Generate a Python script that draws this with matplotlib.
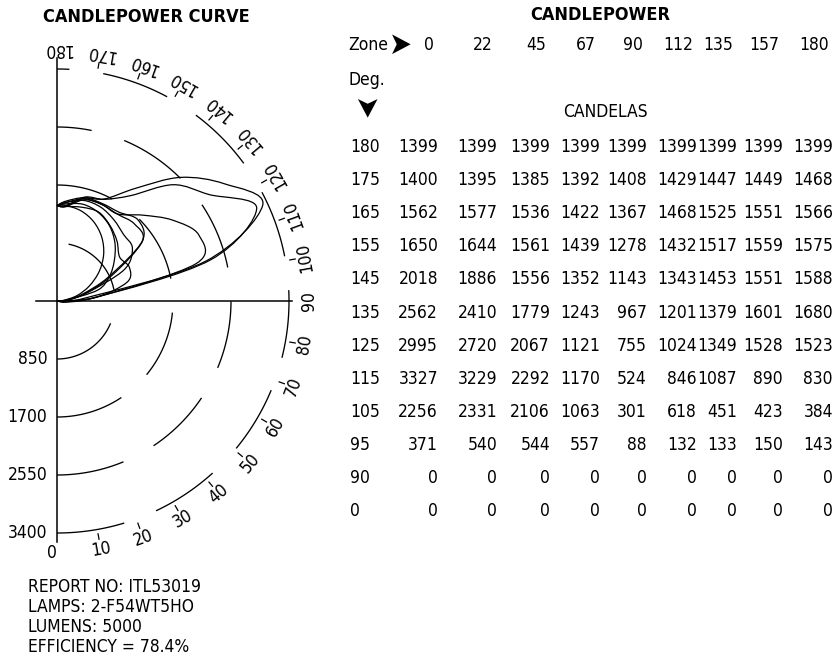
import numpy as np
import matplotlib
matplotlib.use("Agg")
import matplotlib.pyplot as plt
from matplotlib.path import Path
from matplotlib.patches import PathPatch

plt.rcParams['font.family'] = ['DejaVu Sans']
plt.rcParams['font.stretch'] = 'condensed'

# vertical angles (rows of the table) and horizontal planes (columns)
angles = [180, 175, 165, 155, 145, 135, 125, 115, 105, 95, 90, 0]
planes = [0, 22, 45, 67, 90, 112, 135, 157, 180]

# candelas for each plane, one value per vertical angle
cd_0 = [1399, 1400, 1562, 1650, 2018, 2562, 2995, 3327, 2256, 371, 0, 0]
cd_22 = [1399, 1395, 1577, 1644, 1886, 2410, 2720, 3229, 2331, 540, 0, 0]
cd_45 = [1399, 1385, 1536, 1561, 1556, 1779, 2067, 2292, 2106, 544, 0, 0]
cd_67 = [1399, 1392, 1422, 1439, 1352, 1243, 1121, 1170, 1063, 557, 0, 0]
cd_90 = [1399, 1408, 1367, 1278, 1143, 967, 755, 524, 301, 88, 0, 0]
cd_112 = [1399, 1429, 1468, 1432, 1343, 1201, 1024, 846, 618, 132, 0, 0]
cd_135 = [1399, 1447, 1525, 1517, 1453, 1379, 1349, 1087, 451, 133, 0, 0]
cd_157 = [1399, 1449, 1551, 1559, 1551, 1601, 1528, 890, 423, 150, 0, 0]
cd_180 = [1399, 1468, 1566, 1575, 1588, 1680, 1523, 830, 384, 143, 0, 0]
plane_values = [cd_0, cd_22, cd_45, cd_67, cd_90, cd_112, cd_135, cd_157, cd_180]

ring_values = [850, 1700, 2550, 3400]
ring_labels = ['850', '1700', '2550', '3400']
report_lines = ['REPORT NO: ITL53019', 'LAMPS: 2-F54WT5HO',
                'LUMENS: 5000', 'EFFICIENCY = 78.4%']

W, H = 832, 660
fig = plt.figure(figsize=(W / 100, H / 100), dpi=100)
FS = 12.5


def fpos(x, y):
    # pixel position (from top-left) -> figure fraction
    return x / W, 1 - y / H


# ---- polar candlepower curve, data units are candelas ----
S = 232 / 3400.0          # pixels per candela
ox, oy = 57, 301          # origin in pixels
left, right, top, bottom = 0, 330, 30, 585
ax = fig.add_axes([left / W, (H - bottom) / H, (right - left) / W, (bottom - top) / H])
ax.set_xlim((left - ox) / S, (right - ox) / S)
ax.set_ylim(-(bottom - oy) / S, (oy - top) / S)
ax.axis('off')


def xy(r, theta_deg):
    t = np.radians(theta_deg)
    return r * np.sin(t), -r * np.cos(t)


# dashed rings: 1000 cd dash, 500 cd gap, measured along the arc from 0 deg
for r in ring_values:
    total = np.pi * r
    s = 0.0
    while s < total:
        e = min(s + 1000, total)
        th = np.degrees(np.linspace(s / r, e / r, 60))
        x, y = xy(r, th)
        ax.plot(x, y, color='black', lw=0.95, solid_capstyle='butt')
        s += 1500

# axis lines
ax.plot([0, 0], [-3530, 3565], color='black', lw=1.1)
ax.plot([-310, 3450], [0, 0], color='black', lw=1.1)

# degree ticks and labels
for a in range(0, 181, 10):
    if 0 < a < 180 and a != 90:
        x, y = xy(np.array([3465, 3545]), a)
        ax.plot(x, y, color='black', lw=0.9)
    lx, ly = xy(3690, a)
    if a == 0:
        lx -= 70
    ax.text(lx, ly, str(a), rotation=a, ha='center', va='center',
            rotation_mode='anchor', fontsize=FS)

for r, lab in zip(ring_values, ring_labels):
    ax.text(-140, -r, lab, ha='right', va='center', fontsize=FS)


# smooth curve through each plane (Catmull-Rom as cubic Bezier path)
def smooth_path(px, py):
    pts = np.column_stack([px, py])
    n = len(pts)
    verts = [pts[0]]
    codes = [Path.MOVETO]
    for i in range(n - 1):
        p0 = pts[max(i - 1, 0)]
        p1 = pts[i]
        p2 = pts[i + 1]
        p3 = pts[min(i + 2, n - 1)]
        c1 = p1 + (p2 - p0) / 6.0
        c2 = p2 - (p3 - p1) / 6.0
        verts += [c1, c2, p2]
        codes += [Path.CURVE4] * 3
    return Path(verts, codes)


for vals in plane_values:
    th = np.array(angles[:-1], dtype=float)
    v = np.array(vals[:-1], dtype=float)
    x, y = xy(v, th)
    ax.add_patch(PathPatch(smooth_path(x, y), fill=False, edgecolor='black', lw=0.9))

fig.text(*fpos(43, 17), 'CANDLEPOWER CURVE', fontsize=13, fontweight='bold',
         ha='left', va='center')

for i, line in enumerate(report_lines):
    fig.text(*fpos(28, 587 + 20 * i), line, fontsize=FS, ha='left', va='center')

# ---- candlepower table ----
fig.text(*fpos(600, 15), 'CANDLEPOWER', fontsize=13, fontweight='bold',
         ha='center', va='center')
fig.text(*fpos(348, 45), 'Zone', fontsize=FS, ha='left', va='center')
fig.text(*fpos(400, 45), '\u27a4', fontsize=22, ha='center', va='center')
fig.text(*fpos(348, 80), 'Deg.', fontsize=FS, ha='left', va='center')
fig.text(*fpos(363, 110), '\u27a4', fontsize=22, ha='center', va='center',
         rotation=-90)
fig.text(*fpos(605, 112), 'CANDELAS', fontsize=FS, ha='center', va='center')

col_right = [438, 497, 550, 600, 647, 697, 737, 783, 833]
for p, xr in zip(planes, col_right):
    fig.text(*fpos(xr - 4, 45), str(p), fontsize=FS, ha='right', va='center')

row_y0, row_dy = 147, 33.1
for i, a in enumerate(angles):
    yy = row_y0 + row_dy * i
    fig.text(*fpos(350, yy), str(a), fontsize=FS, ha='left', va='center')
    for vals, xr in zip(plane_values, col_right):
        fig.text(*fpos(xr, yy), str(vals[i]), fontsize=FS, ha='right', va='center')

fig.savefig('out.png', dpi=100)
